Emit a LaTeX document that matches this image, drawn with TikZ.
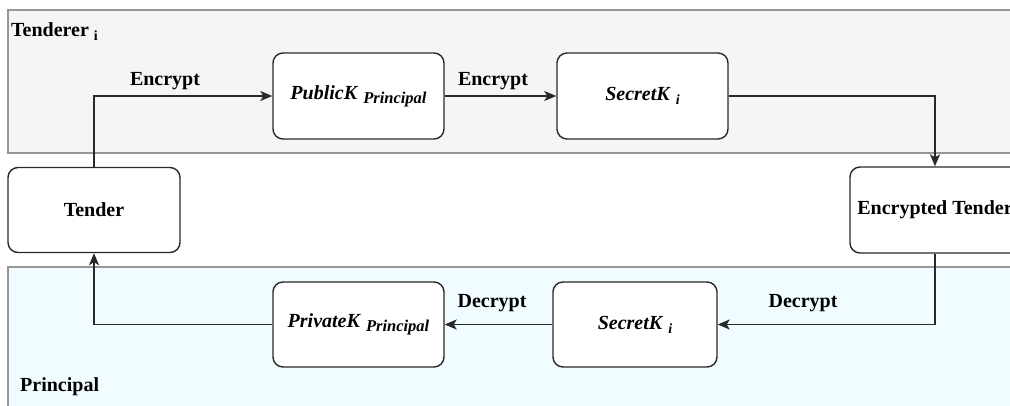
\documentclass[tikz,border=0pt]{standalone}
\usepackage{fontspec}
\setmainfont{Liberation Serif}
\usetikzlibrary{arrows.meta}
\definecolor{tenderbg}{RGB}{245,245,245}
\definecolor{principalbg}{RGB}{240,252,255}
\definecolor{bandline}{RGB}{150,150,150}
\definecolor{boxline}{RGB}{40,40,40}
% lowered, smaller index text
\newcommand{\lowsub}[2][16.5]{\raisebox{-4pt}{\fontsize{#1}{#1}\selectfont #2}}

\begin{document}
\begin{tikzpicture}[x=1pt,y=-1pt,
  band/.style={draw=bandline,line width=1.3pt},
  keybox/.style={draw=boxline,fill=white,rounded corners=10pt,line width=1.4pt,
    minimum width=171pt,minimum height=86pt,inner sep=0pt,
    font=\fontsize{20}{23}\selectfont\bfseries},
  flow/.style={draw=boxline,line width=1.4pt,-{Stealth[length=12pt,width=10pt,inset=3pt]}},
  lbl/.style={font=\fontsize{20}{23}\selectfont\bfseries,inner sep=0pt}]
\clip (0,0) rectangle (1010,405);

% swimlanes
\path[band,fill=tenderbg] (8,10) rectangle (1025,153);
\path[band,fill=principalbg] (8,267) rectangle (1025,420);
\node[lbl,anchor=base west] (lane1) at (11,36) {Tenderer \lowsub[14]{i}};
\node[lbl,anchor=base west] (lane2) at (20,391) {Principal};

% boxes
\node[keybox,minimum width=172pt,minimum height=85pt] (tender) at (94,210) {Tender};
\node[keybox] (pub) at (358.5,96) {\textit{PublicK} \lowsub{\textit{Principal}}};
\node[keybox] (sec1) at (642.5,96) {\textit{SecretK} \lowsub[14]{\textit{i}}};
\node[keybox,minimum width=170pt] (enc) at (935,210) {Encrypted Tender};
\node[keybox,minimum width=164pt,minimum height=85pt] (sec2) at (635,324.5) {\textit{SecretK} \lowsub[14]{\textit{i}}};
\node[keybox,minimum height=85pt] (priv) at (358.5,324.5) {\textit{PrivateK} \lowsub{\textit{Principal}}};

% connectors
\draw[flow] (tender.north) |- (pub.west);
\draw[flow] (pub) -- (sec1);
\draw[flow] (sec1.east) -| (enc.north);
\draw[flow] (enc.south) |- (sec2.east);
\draw[flow] (sec2) -- (priv);
\draw[flow] (priv.west) -| (tender.south);

% connector labels
\node[lbl] (l1) at (165,81) {Encrypt};
\node[lbl] (l2) at (493,81) {Encrypt};
\node[lbl] (l3) at (803,303) {Decrypt};
\node[lbl] (l4) at (492,303) {Decrypt};
\end{tikzpicture}
\end{document}
